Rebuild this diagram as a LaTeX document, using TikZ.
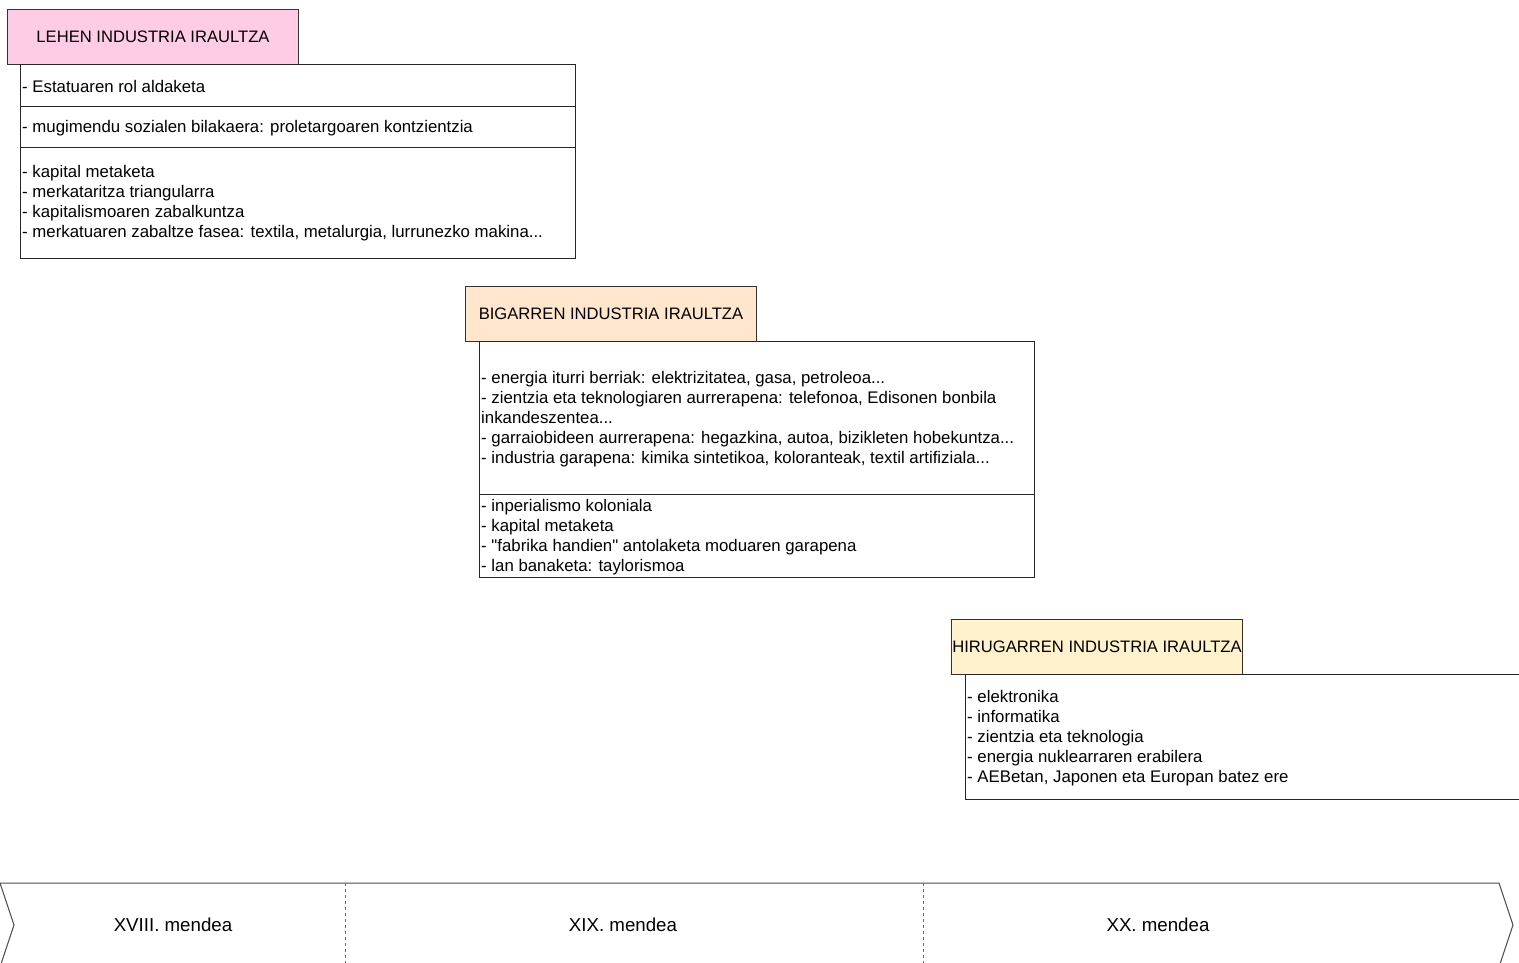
\documentclass[tikz,border=0pt]{standalone}
\usepackage{fontspec}
\setmainfont{Liberation Sans}
\usetikzlibrary{positioning}

\definecolor{pinkfill}{HTML}{FFCCE6}
\definecolor{peachfill}{HTML}{FFE6CC}
\definecolor{creamfill}{HTML}{FFF2CC}

\begin{document}
\begin{tikzpicture}[x=1pt,y=-1pt,
        title/.style={draw=black!80,line width=1pt,anchor=north west,inner sep=0pt,
            minimum width=291pt,minimum height=55pt,font=\fontsize{16.6}{20}\selectfont},
        panel/.style={draw=black!85,line width=1pt,anchor=north west,inner sep=0pt,
            minimum width=555pt},
        item/.style={anchor=west,align=left,inner sep=0pt,font=\fontsize{16.8}{20}\selectfont},
        era/.style={font=\fontsize{18.7}{22}\selectfont}]

  \useasboundingbox (0,0) rectangle (1519,963);

  % lehen industria iraultza
  \node[title,fill=pinkfill] (lehen) at (7,9) {LEHEN INDUSTRIA IRAULTZA};
  \node[panel,minimum height=42pt] (lehenA) at (20,64) {};
  \node[panel,minimum height=41pt] (lehenB) at (20,106) {};
  \node[panel,minimum height=111pt] (lehenC) at (20,147) {};
  \node[item] (lehenAtxt) at (22,86) {- Estatuaren rol aldaketa};
  \node[item] (lehenBtxt) at (22,128) {- mugimendu sozialen bilakaera: proletargoaren kontzientzia};
  \node[item] (lehenCtxt) at (22,203.5) {- kapital metaketa\\- merkataritza triangularra\\
      - kapitalismoaren zabalkuntza\\
      - merkatuaren zabaltze fasea: textila, metalurgia, lurrunezko makina...};

  % bigarren industria iraultza
  \node[title,fill=peachfill] (bigarren) at (465,286) {BIGARREN INDUSTRIA IRAULTZA};
  \node[panel,minimum height=153pt] (bigarrenA) at (479,341) {};
  \node[panel,minimum height=83pt] (bigarrenB) at (479,494) {};
  \node[item] (bigarrenAtxt) at (481,419.5) {- energia iturri berriak: elektrizitatea, gasa, petroleoa...\\
      - zientzia eta teknologiaren aurrerapena: telefonoa, Edisonen bonbila\\
      inkandeszentea...\\
      - garraiobideen aurrerapena: hegazkina, autoa, bizikleten hobekuntza...\\
      - industria garapena: kimika sintetikoa, koloranteak, textil artifiziala...};
  \node[item] (bigarrenBtxt) at (481,537.5) {- inperialismo koloniala\\- kapital metaketa\\
      - \textquotedbl fabrika handien\textquotedbl{} antolaketa moduaren garapena\\
      - lan banaketa: taylorismoa};

  % hirugarren industria iraultza
  \node[title,fill=creamfill] (hirugarren) at (951,619) {HIRUGARREN INDUSTRIA IRAULTZA};
  \node[panel,minimum height=125pt] (hirugarrenA) at (965,674) {};
  \node[item] (hirugarrenAtxt) at (967,738.5) {- elektronika\\- informatika\\
      - zientzia eta teknologia\\- energia nuklearraren erabilera\\
      - AEBetan, Japonen eta Europan batez ere};

  % mendeak
  \draw[black!70,line width=1pt] (0,883) -- (1499,883) -- (1513,925) -- (1499,967)
      -- (0,967) -- (14,925) -- cycle;
  \draw[black!60,dashed] (345,883) -- (345,967);
  \draw[black!60,dashed] (923,883) -- (923,967);
  \node[era] (xviii) at (173,925) {XVIII. mendea};
  \node[era] (xix) at (623,925) {XIX. mendea};
  \node[era] (xx) at (1158,925) {XX. mendea};

\end{tikzpicture}
\end{document}
